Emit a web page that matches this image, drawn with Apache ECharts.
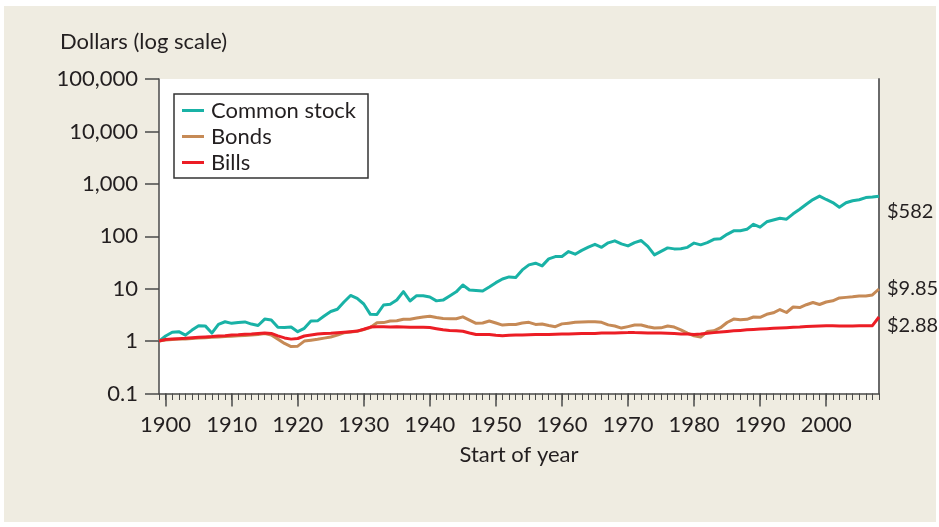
<!DOCTYPE html>
<html>
<head>
<meta charset="utf-8">
<script src="https://cdn.jsdelivr.net/npm/echarts@6/dist/echarts.min.js"></script>
<style>
  html, body { margin: 0; padding: 0; background: #ffffff; }
  #wrap { position: relative; width: 939px; height: 527px; overflow: hidden; }
  #panel { position: absolute; left: 4px; top: 6px; width: 932px; height: 516px; background: #EFECE1; }
  #chart { position: absolute; left: 0; top: 0; width: 939px; height: 527px; }
</style>
</head>
<body>
<div id="wrap">
  <div id="panel"></div>
  <div id="chart"></div>
</div>
<script>
// Growth of $1 invested, start-of-year values, 1899–2008
const firstYear = 1899;
const lastYear = 2008;
const decadeLabels = [1900, 1910, 1920, 1930, 1940, 1950, 1960, 1970, 1980, 1990, 2000];
const seriesNames = ['Common stock', 'Bonds', 'Bills'];

const stockValues = [
  1.00, 1.25, 1.47, 1.51, 1.30, 1.62, 1.96, 1.95, 1.42, 2.09,
  2.34, 2.18, 2.26, 2.32, 2.11, 1.98, 2.63, 2.52, 1.83, 1.81,
  1.85, 1.51, 1.75, 2.41, 2.43, 3.01, 3.67, 4.04, 5.57, 7.41,
  6.50, 5.10, 3.24, 3.22, 4.88, 5.03, 6.08, 8.76, 5.82, 7.35,
  7.30, 6.94, 5.85, 6.05, 7.25, 8.70, 11.77, 9.44, 9.24, 9.04,
  10.78, 13.02, 15.33, 16.74, 16.37, 22.79, 28.39, 30.6, 27.2, 37.0,
  40.9, 41.2, 51.0, 45.5, 53.8, 61.9, 70.0, 61.4, 74.8, 81.7,
  71.6, 65.5, 75.5, 82.8, 64.1, 44.1, 51.4, 60.0, 57.4, 57.8,
  61.4, 74.0, 68.5, 75.5, 87.2, 89.2, 108.7, 126.9, 127.5, 135.5,
  168.9, 149.3, 188.5, 204, 220, 212, 268, 327, 407, 501,
  584, 503, 439, 357, 435, 475, 497, 547, 559, 582
];

const bondValues = [
  1.00, 1.05, 1.07, 1.09, 1.10, 1.12, 1.14, 1.16, 1.18, 1.20,
  1.22, 1.24, 1.26, 1.28, 1.30, 1.33, 1.39, 1.31, 1.09, 0.90,
  0.785, 0.80, 1.00, 1.04, 1.08, 1.14, 1.20, 1.30, 1.44, 1.49,
  1.54, 1.66, 1.81, 2.24, 2.25, 2.41, 2.44, 2.60, 2.61, 2.75,
  2.88, 2.98, 2.81, 2.69, 2.66, 2.66, 2.90, 2.52, 2.18, 2.21,
  2.41, 2.21, 2.02, 2.07, 2.07, 2.21, 2.28, 2.08, 2.11, 1.98,
  1.88, 2.13, 2.20, 2.28, 2.31, 2.34, 2.35, 2.28, 2.04, 1.94,
  1.77, 1.89, 2.02, 2.03, 1.88, 1.77, 1.79, 1.94, 1.85, 1.64,
  1.42, 1.26, 1.19, 1.52, 1.57, 1.80, 2.26, 2.63, 2.54, 2.60,
  2.88, 2.84, 3.24, 3.46, 4.00, 3.51, 4.47, 4.37, 4.94, 5.45,
  4.99, 5.57, 5.87, 6.64, 6.82, 7.00, 7.25, 7.22, 7.58, 9.85
];

const billValues = [
  1.00, 1.07, 1.09, 1.11, 1.13, 1.16, 1.18, 1.20, 1.22, 1.25,
  1.27, 1.30, 1.32, 1.35, 1.37, 1.40, 1.43, 1.40, 1.26, 1.15,
  1.09, 1.12, 1.25, 1.30, 1.36, 1.39, 1.41, 1.44, 1.47, 1.51,
  1.55, 1.68, 1.85, 1.88, 1.87, 1.85, 1.87, 1.85, 1.83, 1.83,
  1.83, 1.81, 1.72, 1.64, 1.60, 1.58, 1.54, 1.43, 1.34, 1.34,
  1.33, 1.29, 1.27, 1.29, 1.30, 1.31, 1.32, 1.33, 1.34, 1.34,
  1.35, 1.36, 1.37, 1.38, 1.39, 1.40, 1.40, 1.42, 1.42, 1.43,
  1.44, 1.45, 1.45, 1.44, 1.43, 1.42, 1.42, 1.41, 1.39, 1.37,
  1.36, 1.34, 1.36, 1.41, 1.45, 1.49, 1.53, 1.57, 1.60, 1.64,
  1.67, 1.70, 1.72, 1.75, 1.77, 1.80, 1.83, 1.85, 1.89, 1.91,
  1.94, 1.96, 1.96, 1.95, 1.95, 1.95, 1.96, 1.97, 1.97, 2.88
];

const seriesColors = ['#19B2A6', '#C68A56', '#EC1D25'];

const FONT = 'Lato';
const INK = '#231F20';
const AXIS = '#4a4a4a';
const TEXT_SIZE = 22;

function pairs(values) {
  return values.map((v, i) => [firstYear + i, v]);
}

function dollarAxisLabel(v) {
  if (v < 1) return String(+v.toPrecision(1));
  return Math.round(v).toLocaleString('en-US');
}

function lineSeries(name, values, color, labelOffset) {
  return {
    name: name,
    type: 'line',
    data: pairs(values),
    showSymbol: false,
    symbol: 'none',
    smooth: false,
    lineStyle: { width: 3, color: color, join: 'round' },
    itemStyle: { color: color },
    emphasis: { disabled: true },
    endLabel: {
      show: true,
      formatter: p => '$' + p.value[1],
      offset: labelOffset,
      fontFamily: FONT,
      fontSize: 20,
      color: INK
    }
  };
}

const chart = echarts.init(document.getElementById('chart'), null, { renderer: 'canvas' });

chart.setOption({
  animation: false,
  textStyle: { fontFamily: FONT, color: INK },
  graphic: [
    {
      type: 'text', left: 60, top: 31, silent: true,
      style: { text: 'Dollars (log scale)', font: TEXT_SIZE + 'px Lato', fill: INK }
    },
    {
      type: 'rect', z: 3, silent: true,
      shape: { x: 174, y: 94, width: 194, height: 84 },
      style: { fill: '#ffffff', stroke: '#333333', lineWidth: 1.5 }
    }
  ],
  grid: {
    left: 159, right: 60, top: 79, bottom: 133.5,
    show: true, backgroundColor: '#ffffff', borderWidth: 0
  },
  legend: {
    z: 5,
    orient: 'vertical',
    left: 182, top: 99.5,
    padding: 0,
    icon: 'rect',
    itemWidth: 22, itemHeight: 3, itemGap: 4,
    selectedMode: false,
    data: seriesNames,
    textStyle: { fontFamily: FONT, fontSize: TEXT_SIZE, color: INK, lineHeight: 22, padding: [0, 0, 0, 2] }
  },
  xAxis: [
    {
      type: 'value', min: firstYear, max: lastYear, interval: 1,
      axisLine: { show: true, onZero: false, lineStyle: { color: AXIS, width: 1.5 } },
      axisTick: { show: true, length: 6.5, lineStyle: { color: AXIS, width: 1 } },
      axisLabel: {
        customValues: decadeLabels,
        formatter: v => (v % 10 === 0 ? String(v) : ''),
        fontFamily: FONT, fontSize: TEXT_SIZE, color: INK, margin: 20
      },
      splitLine: { show: false },
      name: 'Start of year', nameLocation: 'middle', nameGap: 50,
      nameTextStyle: { fontFamily: FONT, fontSize: TEXT_SIZE, color: INK }
    },
    {
      type: 'value', min: firstYear, max: lastYear, interval: 1, position: 'bottom',
      axisLine: { show: false },
      axisTick: { show: true, customValues: decadeLabels, length: 13, lineStyle: { color: AXIS, width: 1.5 } },
      axisLabel: { show: false },
      splitLine: { show: false }
    }
  ],
  yAxis: [
    {
      type: 'log', logBase: 10, min: 0.1, max: 100000, splitNumber: 6,
      axisLine: { show: true, lineStyle: { color: AXIS, width: 1.5 } },
      axisTick: { show: true, length: 14, lineStyle: { color: AXIS, width: 1.5 } },
      axisLabel: { formatter: dollarAxisLabel, fontFamily: FONT, fontSize: TEXT_SIZE, color: INK, margin: 21 },
      splitLine: { show: false }
    },
    {
      type: 'log', logBase: 10, min: 0.1, max: 100000, position: 'right',
      axisLine: { show: true, lineStyle: { color: '#6a6a6a', width: 2 } },
      axisTick: { show: false },
      axisLabel: { show: false },
      splitLine: { show: false }
    }
  ],
  series: [
    lineSeries(seriesNames[0], stockValues, seriesColors[0], [0, 15]),
    lineSeries(seriesNames[1], bondValues, seriesColors[1], [0, 0]),
    lineSeries(seriesNames[2], billValues, seriesColors[2], [0, 9])
  ]
});
</script>
</body>
</html>
